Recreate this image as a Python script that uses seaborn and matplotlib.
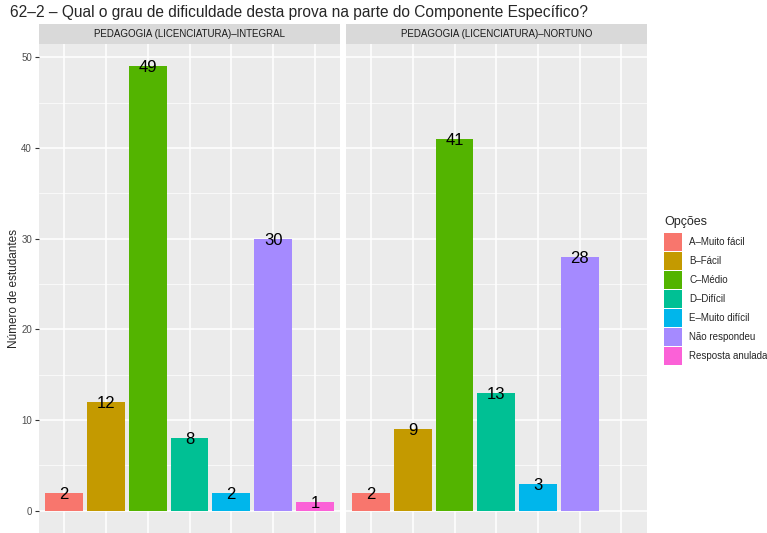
import seaborn as sns
import matplotlib
import matplotlib.pyplot as plt
import matplotlib.patches as mpatches
from matplotlib.ticker import MultipleLocator
import pandas as pd

# dados
opcoes = ["A–Muito fácil", "B–Fácil", "C–Médio", "D–Difícil",
          "E–Muito difícil", "Não respondeu", "Resposta anulada"]
cores = ["#F8766D", "#C49A00", "#53B400", "#00C094", "#00B6EB", "#A58AFF", "#FB61D7"]
cursos = ["PEDAGOGIA (LICENCIATURA)–INTEGRAL", "PEDAGOGIA (LICENCIATURA)–NORTUNO"]
n_integral = [2, 12, 49, 8, 2, 30, 1]
n_nortuno = [2, 9, 41, 13, 3, 28]
titulo = "62–2 – Qual o grau de dificuldade desta prova na parte do Componente Específico?"

df = pd.concat([
    pd.DataFrame({"curso": cursos[0], "opcao": opcoes[:len(n_integral)], "n": n_integral}),
    pd.DataFrame({"curso": cursos[1], "opcao": opcoes[:len(n_nortuno)], "n": n_nortuno}),
])

sns.set_style("white")
plt.rcParams['font.family'] = ['Liberation Sans', 'DejaVu Sans']

W, H = 767, 533
fig = plt.figure(figsize=(W / 100, H / 100), dpi=100)

panels = [(39, 340), (346, 646.5)]
top, bottom = 44, 533
strip_h = 20

for k, (curso, (x0, x1)) in enumerate(zip(cursos, panels)):
    ax = fig.add_axes([x0 / W, (H - bottom) / H, (x1 - x0) / W, (bottom - top) / H])
    sub = df[df.curso == curso]
    sns.barplot(data=sub, x="opcao", y="n", hue="opcao", order=opcoes, hue_order=opcoes,
                palette=cores, width=0.9, errorbar=None, legend=False, saturation=1,
                linewidth=0, ax=ax)
    for o, v in zip(sub.opcao, sub.n):
        ax.text(opcoes.index(o), v, str(v), ha='center', va='center_baseline',
                fontsize=12, color='black')
    ax.set_facecolor("#EBEBEB")
    ax.set_xlim(-0.6, 6.6)
    ax.set_ylim(-2.45, 51.45)
    ax.yaxis.set_major_locator(MultipleLocator(10))
    ax.yaxis.set_minor_locator(MultipleLocator(5))
    ax.grid(True, which='major', color='white', linewidth=1.1)
    ax.grid(True, which='minor', axis='y', color='white', linewidth=0.5)
    ax.set_axisbelow(True)
    for s in ax.spines.values():
        s.set_visible(False)
    ax.set_xlabel("")
    ax.set_xticks(range(7))
    ax.tick_params(axis='x', length=0, labelbottom=False)
    if k == 0:
        ax.tick_params(axis='y', which='major', length=3, width=0.8, color='#333333',
                       labelsize=7, labelcolor='#4D4D4D', pad=2, left=True)
        ax.tick_params(axis='y', which='minor', length=0)
        ax.set_ylabel("Número de estudantes", fontsize=8.5, labelpad=1)
    else:
        ax.tick_params(axis='y', which='both', length=0, labelleft=False)
        ax.set_ylabel("")

    # faixa do facet
    sax = fig.add_axes([x0 / W, (H - top) / H, (x1 - x0) / W, strip_h / H])
    sax.set_facecolor("#D9D9D9")
    sax.set_xticks([])
    sax.set_yticks([])
    for s in sax.spines.values():
        s.set_visible(False)
    sax.text(0.5, 0.5, curso, ha='center', va='center', fontsize=7, color='#1A1A1A',
             transform=sax.transAxes)

fig.text(10 / W, 1 - 12 / H, titulo, ha='left', va='center', fontsize=11.2)

# legenda (feita à mão para acertar o tamanho das chaves)
fig.text(664 / W, 1 - 222 / H, "Opções", ha='left', va='center', fontsize=9)
for i, (c, o) in enumerate(zip(cores, opcoes)):
    y_top = 233 + 19 * i
    fig.patches.append(mpatches.Rectangle((664 / W, 1 - (y_top + 17.5) / H), 17.5 / W, 17.5 / H,
                                          facecolor=c, edgecolor='none',
                                          transform=fig.transFigure))
    fig.text(689 / W, 1 - (y_top + 9) / H, o, ha='left', va='center', fontsize=7)

plt.savefig("out.png", dpi=100)
